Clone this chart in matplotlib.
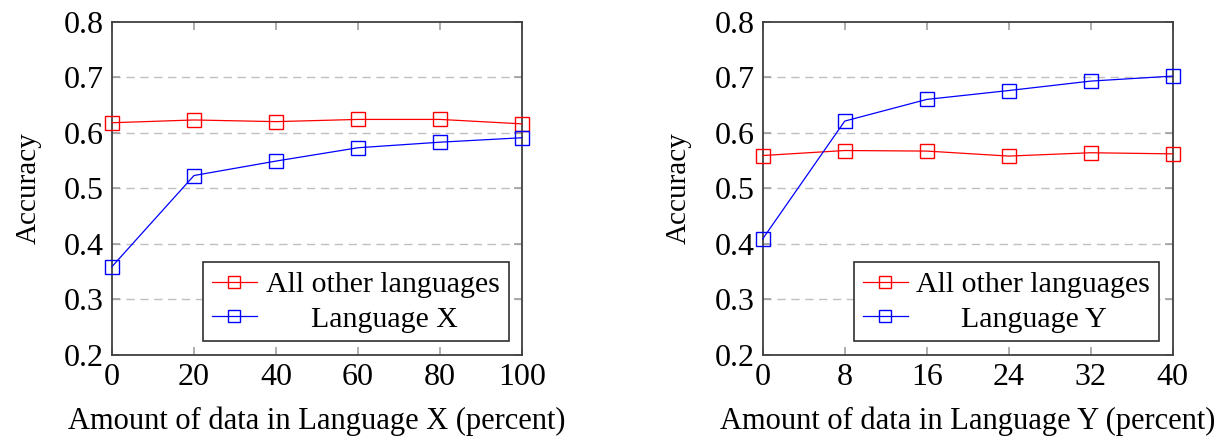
import matplotlib.pyplot as plt
import numpy as np

plt.rcParams['font.family'] = ['Liberation Serif', 'DejaVu Serif']

# Left panel: Language X
x_left = [0, 20, 40, 60, 80, 100]
other_left = [0.618, 0.623, 0.620, 0.624, 0.624, 0.616]
langx = [0.359, 0.523, 0.549, 0.573, 0.583, 0.591]

# Right panel: Language Y
x_right = [0, 8, 16, 24, 32, 40]
other_right = [0.559, 0.568, 0.567, 0.558, 0.564, 0.562]
langy = [0.409, 0.621, 0.660, 0.676, 0.693, 0.702]

y_ticks = [0.2, 0.3, 0.4, 0.5, 0.6, 0.7, 0.8]

fig = plt.figure(figsize=(12.32, 4.42), dpi=100)

panels = [
    (0.0909, x_left, other_left, langx, 'Language X'),
    (0.6191, x_right, other_right, langy, 'Language Y'),
]

for x0, xs, other, lang, name in panels:
    ax = fig.add_axes([x0, 0.197, 0.3328, 0.754])

    # dashed horizontal grid
    for yv in y_ticks[1:-1]:
        ax.axhline(yv, color='#c0c0c0', linestyle=(0, (6, 4)), linewidth=1.0, zorder=0)

    ax.plot(xs, other, color='red', linewidth=0.9, marker='s', markersize=10,
            markerfacecolor='none', markeredgewidth=1.0, label='All other languages',
            clip_on=False, zorder=3)
    ax.plot(xs, lang, color='blue', linewidth=0.9, marker='s', markersize=10,
            markerfacecolor='none', markeredgewidth=1.0, label='      ' + name,
            clip_on=False, zorder=3)

    ax.set_xlim(xs[0], xs[-1])
    ax.set_ylim(0.2, 0.8)
    ax.set_xticks(xs)
    ax.set_yticks(y_ticks)
    ax.set_yticklabels(['%.1f' % v for v in y_ticks])
    ax.tick_params(direction='in', length=6, width=1.2, color='#a0a0a0',
                   top=True, right=True, labelsize=23, pad=6)

    for sp in ax.spines.values():
        sp.set_color('#404040')
        sp.set_linewidth(1.3)

    ax.set_xlabel('Amount of data in %s (percent)' % name, fontsize=22, labelpad=10)
    ax.set_ylabel('Accuracy', fontsize=21, labelpad=16)

    leg = ax.legend(loc='lower right', fontsize=21.5, frameon=True, fancybox=False,
                    edgecolor='#303030', framealpha=1, borderaxespad=0.45,
                    handlelength=1.5, handletextpad=0.3, labelspacing=0.25,
                    borderpad=0.3, markerscale=0.9)
    leg.get_frame().set_linewidth(1.2)

plt.savefig('out.png', dpi=100)
